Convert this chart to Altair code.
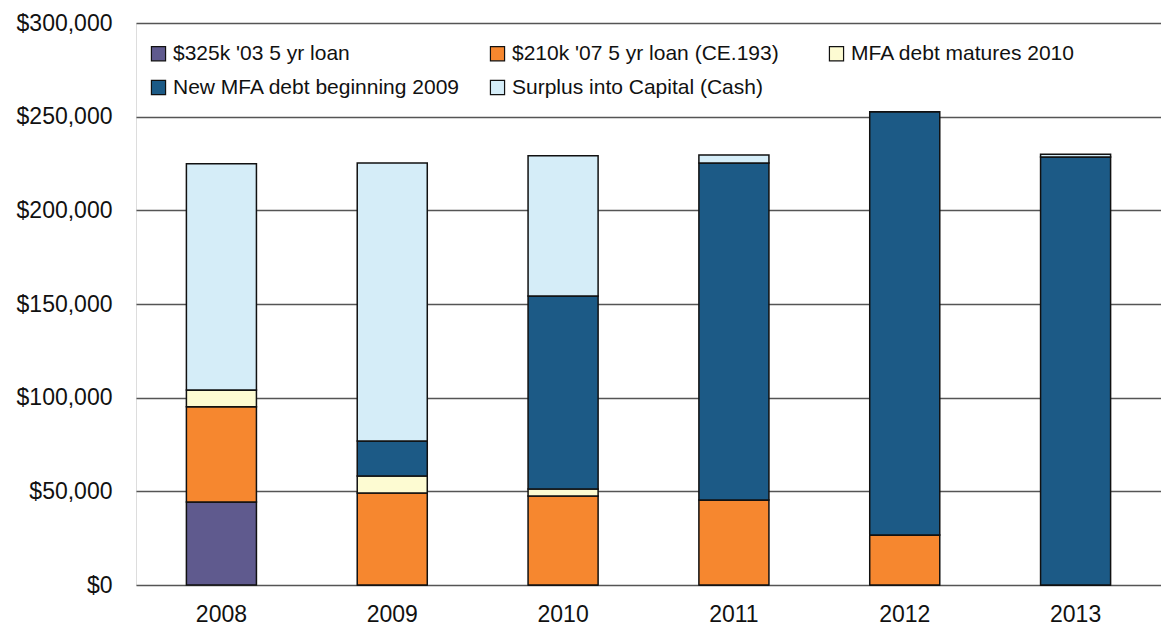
import altair as alt
import pandas as pd

years = ["2008", "2009", "2010", "2011", "2012", "2013"]
series = [
    "$325k '03 5 yr loan",
    "$210k '07 5 yr loan (CE.193)",
    "MFA debt matures 2010",
    "New MFA debt beginning 2009",
    "Surplus into Capital (Cash)",
]
loan_325k = [44300, 0, 0, 0, 0, 0]
loan_210k = [50800, 49100, 47500, 45400, 26700, 0]
mfa_2010 = [9000, 9100, 3800, 0, 0, 0]
new_mfa = [0, 18700, 103000, 179900, 225900, 228500]
surplus = [120800, 148400, 74800, 4300, 0, 1500]
colors = ["#5f5a8e", "#f6872f", "#fdfbd2", "#1c5a86", "#d5edf8"]

rows = []
for i, s in enumerate(series):
    vals = [loan_325k, loan_210k, mfa_2010, new_mfa, surplus][i]
    for y, v in zip(years, vals):
        rows.append({"Year": y, "Series": s, "Value": v, "Order": i})
df = pd.DataFrame(rows)

FONT = "Liberation Sans"

chart = alt.Chart(df).mark_bar(stroke="#111111", strokeWidth=1.5).encode(
    x=alt.X("Year:N", sort=years,
            scale=alt.Scale(paddingInner=0.59, paddingOuter=0.295),
            axis=alt.Axis(title=None, labelAngle=0, labelFontSize=23, labelFont=FONT,
                          labelColor="#111111", labelPadding=18, ticks=False, domain=False)),
    y=alt.Y("sum(Value):Q", stack="zero",
            scale=alt.Scale(domain=[0, 300000], nice=False),
            axis=alt.Axis(title=None, values=[0, 50000, 100000, 150000, 200000, 250000, 300000],
                          format="$,.0f", labelFontSize=23, labelFont=FONT, labelColor="#111111",
                          labelPadding=24, ticks=False, domain=False,
                          grid=True, gridColor="#555555", gridWidth=1.5)),
    color=alt.Color("Series:N", sort=series,
                    scale=alt.Scale(domain=series, range=colors),
                    legend=alt.Legend(title=None, orient="none", legendX=12, legendY=20,
                                      direction="horizontal", columns=3, columnPadding=26,
                                      gridAlign="all",
                                      rowPadding=12, labelFontSize=21, labelFont=FONT,
                                      labelColor="#111111", symbolType="square",
                                      symbolSize=200, symbolStrokeColor="#111111",
                                      symbolStrokeWidth=1.2, labelLimit=400)),
    order=alt.Order("Order:Q", sort="ascending"),
).properties(
    width=1025, height=562,
    autosize=alt.AutoSizeParams(type="none"),
    padding={"left": 136, "top": 23, "right": 0, "bottom": 44},
).configure_view(stroke=None).configure(background="white")

chart.save("out.html", embed_options={"renderer": "svg", "actions": False})
